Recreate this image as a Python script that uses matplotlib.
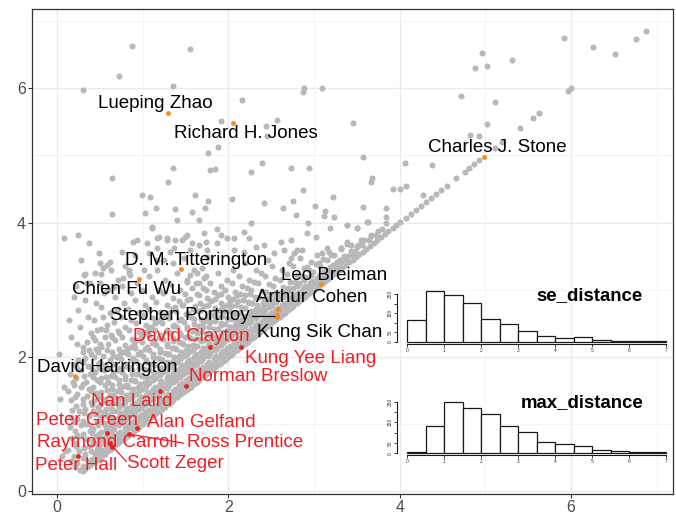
import matplotlib
matplotlib.use("Agg")
import matplotlib.pyplot as plt

plt.rcParams["font.family"] = ["Liberation Sans", "DejaVu Sans"]

# authors lying on the identity line (se_distance == max_distance)
diag_se = [0.30, 0.33, 0.37, 0.40, 0.43, 0.47, 0.50, 0.53, 0.56, 0.60, 0.63, 0.66,
           0.70, 0.73, 0.76, 0.80, 0.83, 0.86, 0.90, 0.93, 0.96, 1.00, 1.03, 1.06,
           1.10, 1.13, 1.16, 1.20, 1.23, 1.26, 1.30, 1.33, 1.36, 1.40, 1.43, 1.46,
           1.50, 1.53, 1.56, 1.60, 1.63, 1.66, 1.70, 1.73, 1.76, 1.80, 1.83, 1.86,
           1.90, 1.93, 1.96, 2.00, 2.03, 2.06, 2.10, 2.13, 2.16, 2.20, 2.23, 2.26,
           2.30, 2.33, 2.36, 2.40, 2.43, 2.46, 2.50, 2.53, 2.56, 2.60, 2.63, 2.66,
           2.70, 2.73, 2.76, 2.80, 2.83, 2.86, 2.90, 2.93, 2.96, 3.00, 3.03, 3.06,
           3.10, 3.13, 3.16, 3.20, 3.23, 3.26, 3.30, 3.33, 3.37, 3.41, 3.45, 3.49,
           3.53, 3.57, 3.61, 3.65, 3.70, 3.74, 3.78, 3.83, 3.87, 3.92, 3.96, 4.01,
           4.07, 4.13, 4.19, 4.25, 4.31, 4.37, 4.42, 4.48, 4.55, 4.66, 4.76, 4.81,
           4.87, 4.93, 5.11, 5.20, 5.41, 5.56, 5.63, 5.96, 6.00]

# (se_distance, max_distance) for the bulk of authors above the identity line
cloud_pts = [
    (0.06, 0.52), (0.09, 0.60), (0.04, 1.38), (0.08, 1.55), (0.02, 2.05),
    (0.16, 0.45), (0.13, 0.62), (0.18, 0.80), (0.15, 0.95), (0.17, 1.10), (0.18, 1.21),
    (0.16, 1.36), (0.13, 1.50), (0.19, 1.62), (0.15, 1.75), (0.20, 1.90), (0.17, 2.30),
    (0.14, 2.55), (0.20, 2.90),
    (0.27, 0.32), (0.23, 0.42), (0.26, 0.60), (0.22, 0.72), (0.24, 0.84), (0.28, 0.98),
    (0.23, 1.08), (0.26, 1.20), (0.30, 1.30), (0.24, 1.45), (0.28, 1.55), (0.22, 1.68),
    (0.27, 1.80), (0.25, 1.95), (0.30, 2.08), (0.23, 2.20), (0.27, 2.45), (0.25, 2.70),
    (0.22, 3.05), (0.28, 3.45),
    (0.36, 0.45), (0.33, 0.55), (0.38, 0.68), (0.35, 0.78), (0.39, 0.90), (0.34, 1.00),
    (0.37, 1.12), (0.33, 1.22), (0.40, 1.33), (0.35, 1.42), (0.38, 1.52), (0.34, 1.63),
    (0.39, 1.74), (0.36, 1.86), (0.33, 1.98), (0.38, 2.10), (0.35, 2.22), (0.40, 2.35),
    (0.36, 2.60), (0.33, 2.85), (0.39, 3.10),
    (0.44, 0.55), (0.47, 0.62), (0.43, 0.72), (0.46, 0.82), (0.42, 0.93), (0.47, 1.03),
    (0.44, 1.15), (0.48, 1.25), (0.43, 1.35), (0.46, 1.46), (0.42, 1.55), (0.47, 1.66),
    (0.44, 1.77), (0.48, 1.90), (0.43, 2.00), (0.46, 2.12), (0.44, 2.25), (0.47, 2.40),
    (0.43, 2.55), (0.46, 2.80), (0.44, 3.25),
    (0.53, 0.62), (0.50, 0.70), (0.55, 0.80), (0.51, 0.88), (0.56, 0.98), (0.52, 1.08),
    (0.55, 1.18), (0.50, 1.28), (0.54, 1.38), (0.51, 1.48), (0.56, 1.58), (0.52, 1.68),
    (0.55, 1.80), (0.50, 1.92), (0.54, 2.02), (0.52, 2.15), (0.56, 2.30), (0.51, 2.42),
    (0.54, 2.60), (0.52, 2.75), (0.55, 2.95),
    (0.60, 0.70), (0.63, 0.78), (0.59, 0.86), (0.62, 0.95), (0.64, 1.05), (0.60, 1.14),
    (0.63, 1.24), (0.59, 1.33), (0.62, 1.43), (0.64, 1.53), (0.60, 1.63), (0.63, 1.72),
    (0.59, 1.83), (0.62, 1.95), (0.64, 2.07), (0.60, 2.20), (0.63, 2.32), (0.59, 2.48),
    (0.62, 2.65), (0.60, 3.00), (0.63, 3.30),
    (0.68, 0.78), (0.71, 0.85), (0.67, 0.93), (0.70, 1.02), (0.72, 1.11), (0.68, 1.20),
    (0.71, 1.30), (0.67, 1.40), (0.70, 1.50), (0.72, 1.60), (0.68, 1.70), (0.71, 1.80),
    (0.67, 1.90), (0.70, 2.00), (0.72, 2.12), (0.68, 2.25), (0.71, 2.38), (0.67, 2.52),
    (0.70, 2.70), (0.68, 2.90), (0.71, 3.15),
    (0.76, 0.86), (0.79, 0.94), (0.75, 1.02), (0.78, 1.10), (0.80, 1.20), (0.76, 1.29),
    (0.79, 1.38), (0.75, 1.48), (0.78, 1.57), (0.80, 1.67), (0.76, 1.77), (0.79, 1.87),
    (0.75, 1.97), (0.78, 2.08), (0.80, 2.18), (0.76, 2.30), (0.79, 2.45), (0.75, 2.60),
    (0.78, 2.80), (0.76, 3.05), (0.79, 3.35),
    (0.84, 0.94), (0.87, 1.02), (0.83, 1.10), (0.86, 1.19), (0.88, 1.28), (0.84, 1.37),
    (0.87, 1.46), (0.83, 1.56), (0.86, 1.65), (0.88, 1.75), (0.84, 1.85), (0.87, 1.95),
    (0.83, 2.05), (0.86, 2.15), (0.88, 2.27), (0.84, 2.40), (0.87, 2.55), (0.83, 2.72),
    (0.86, 2.95), (0.84, 3.25),
    (0.92, 1.02), (0.95, 1.10), (0.91, 1.18), (0.94, 1.27), (0.96, 1.36), (0.92, 1.45),
    (0.95, 1.55), (0.91, 1.64), (0.94, 1.74), (0.96, 1.84), (0.92, 1.94), (0.95, 2.04),
    (0.91, 2.14), (0.94, 2.25), (0.96, 2.37), (0.92, 2.50), (0.95, 2.65), (0.91, 2.85),
    (0.94, 3.10),
    (1.00, 1.10), (1.03, 1.18), (0.99, 1.26), (1.02, 1.35), (1.04, 1.44), (1.00, 1.53),
    (1.03, 1.62), (0.99, 1.72), (1.02, 1.82), (1.04, 1.92), (1.00, 2.02), (1.03, 2.12),
    (0.99, 2.23), (1.02, 2.35), (1.04, 2.48), (1.00, 2.62), (1.03, 2.78), (0.99, 3.00),
    (1.02, 3.30),
    (1.08, 1.18), (1.11, 1.26), (1.07, 1.34), (1.10, 1.43), (1.12, 1.52), (1.08, 1.61),
    (1.11, 1.70), (1.07, 1.80), (1.10, 1.90), (1.12, 2.00), (1.08, 2.10), (1.11, 2.21),
    (1.07, 2.33), (1.10, 2.45), (1.12, 2.58), (1.08, 2.72), (1.11, 2.90), (1.08, 3.20),
    (1.16, 1.26), (1.19, 1.34), (1.15, 1.42), (1.18, 1.51), (1.20, 1.60), (1.16, 1.69),
    (1.19, 1.78), (1.15, 1.88), (1.18, 1.98), (1.20, 2.08), (1.16, 2.18), (1.19, 2.29),
    (1.15, 2.40), (1.18, 2.53), (1.20, 2.67), (1.16, 2.82), (1.19, 3.00), (1.17, 3.30),
    (1.24, 1.34), (1.27, 1.42), (1.23, 1.50), (1.26, 1.59), (1.28, 1.68), (1.24, 1.77),
    (1.27, 1.86), (1.23, 1.96), (1.26, 2.06), (1.28, 2.16), (1.24, 2.27), (1.27, 2.38),
    (1.23, 2.50), (1.26, 2.63), (1.28, 2.78), (1.24, 2.95), (1.26, 3.15),
    (1.32, 1.42), (1.35, 1.50), (1.31, 1.58), (1.34, 1.67), (1.36, 1.76), (1.32, 1.85),
    (1.35, 1.94), (1.31, 2.04), (1.34, 2.14), (1.36, 2.24), (1.32, 2.35), (1.35, 2.46),
    (1.31, 2.58), (1.34, 2.72), (1.36, 2.88), (1.32, 3.08), (1.35, 3.40),
    (1.40, 1.50), (1.43, 1.58), (1.39, 1.66), (1.42, 1.75), (1.44, 1.84), (1.40, 1.93),
    (1.43, 2.02), (1.39, 2.12), (1.42, 2.22), (1.44, 2.33), (1.40, 2.44), (1.43, 2.55),
    (1.39, 2.68), (1.42, 2.83), (1.44, 3.00), (1.40, 3.25),
    (1.48, 1.58), (1.51, 1.66), (1.47, 1.74), (1.50, 1.83), (1.52, 1.92), (1.48, 2.01),
    (1.51, 2.10), (1.47, 2.20), (1.50, 2.30), (1.52, 2.41), (1.48, 2.52), (1.51, 2.64),
    (1.47, 2.78), (1.50, 2.93), (1.52, 3.12),
    (1.56, 1.66), (1.59, 1.74), (1.55, 1.82), (1.58, 1.91), (1.60, 2.00), (1.56, 2.09),
    (1.59, 2.18), (1.55, 2.28), (1.58, 2.38), (1.60, 2.49), (1.56, 2.60), (1.59, 2.72),
    (1.55, 2.86), (1.58, 3.02), (1.60, 3.30),
    (1.64, 1.74), (1.67, 1.82), (1.63, 1.90), (1.66, 1.99), (1.68, 2.08), (1.64, 2.17),
    (1.67, 2.26), (1.63, 2.36), (1.66, 2.46), (1.68, 2.57), (1.64, 2.68), (1.67, 2.80),
    (1.63, 2.94), (1.66, 3.10),
    (1.72, 1.82), (1.75, 1.90), (1.71, 1.98), (1.74, 2.07), (1.76, 2.16), (1.72, 2.25),
    (1.75, 2.34), (1.71, 2.44), (1.74, 2.54), (1.76, 2.65), (1.72, 2.76), (1.75, 2.88),
    (1.71, 3.02), (1.74, 3.20),
    (1.80, 1.90), (1.83, 1.98), (1.79, 2.06), (1.82, 2.15), (1.84, 2.24), (1.80, 2.33),
    (1.83, 2.42), (1.79, 2.52), (1.82, 2.62), (1.84, 2.73), (1.80, 2.84), (1.83, 2.96),
    (1.79, 3.10),
    (1.88, 1.98), (1.91, 2.06), (1.87, 2.14), (1.90, 2.23), (1.92, 2.32), (1.88, 2.41),
    (1.91, 2.50), (1.87, 2.60), (1.90, 2.70), (1.92, 2.81), (1.88, 2.92), (1.91, 3.05),
    (1.88, 3.25),
    (1.96, 2.06), (1.99, 2.14), (1.95, 2.22), (1.98, 2.31), (2.00, 2.40), (1.96, 2.49),
    (1.99, 2.58), (1.95, 2.68), (1.98, 2.78), (2.00, 2.89), (1.96, 3.00), (1.99, 3.15),
    (2.04, 2.14), (2.07, 2.22), (2.03, 2.30), (2.06, 2.39), (2.08, 2.48), (2.04, 2.57),
    (2.07, 2.66), (2.03, 2.76), (2.06, 2.86), (2.08, 2.97), (2.04, 3.10), (2.06, 3.30),
    (2.12, 2.22), (2.15, 2.30), (2.11, 2.38), (2.14, 2.47), (2.16, 2.56), (2.12, 2.65),
    (2.15, 2.74), (2.11, 2.84), (2.14, 2.94), (2.16, 3.06), (2.12, 3.20),
    (2.20, 2.30), (2.23, 2.38), (2.19, 2.46), (2.22, 2.55), (2.24, 2.64), (2.20, 2.73),
    (2.23, 2.82), (2.19, 2.92), (2.22, 3.02), (2.24, 3.15), (2.20, 3.40),
    (2.28, 2.38), (2.31, 2.46), (2.27, 2.54), (2.30, 2.63), (2.32, 2.72), (2.28, 2.81),
    (2.31, 2.90), (2.27, 3.00), (2.30, 3.12), (2.32, 3.30),
    (2.36, 2.46), (2.39, 2.54), (2.35, 2.62), (2.38, 2.71), (2.40, 2.80), (2.36, 2.89),
    (2.39, 2.98), (2.35, 3.10), (2.38, 3.25),
    (2.44, 2.54), (2.47, 2.62), (2.43, 2.70), (2.46, 2.79), (2.48, 2.88), (2.44, 2.97),
    (2.47, 3.08), (2.43, 3.20), (2.46, 3.45),
    (2.52, 2.62), (2.55, 2.70), (2.51, 2.78), (2.54, 2.87), (2.56, 2.96), (2.52, 3.06),
    (2.55, 3.18), (2.51, 3.35),
    (2.60, 2.70), (2.63, 2.78), (2.59, 2.86), (2.62, 2.95), (2.64, 3.04), (2.60, 3.15),
    (2.63, 3.30),
    (2.68, 2.78), (2.71, 2.86), (2.67, 2.94), (2.70, 3.03), (2.72, 3.12), (2.68, 3.24),
    (2.71, 3.40),
    (2.76, 2.86), (2.79, 2.94), (2.75, 3.02), (2.78, 3.11), (2.80, 3.22), (2.76, 3.36),
    (2.84, 2.94), (2.87, 3.02), (2.83, 3.10), (2.86, 3.20), (2.88, 3.32), (2.84, 3.48),
    (2.92, 3.02), (2.95, 3.10), (2.91, 3.19), (2.94, 3.29), (2.96, 3.42),
    (3.00, 3.10), (3.03, 3.18), (2.99, 3.27), (3.02, 3.38), (3.04, 3.52),
    (3.08, 3.18), (3.11, 3.26), (3.07, 3.35), (3.10, 3.46),
    (3.16, 3.26), (3.19, 3.34), (3.15, 3.44), (3.18, 3.56),
    (3.24, 3.34), (3.27, 3.42), (3.23, 3.52),
    (3.32, 3.42), (3.35, 3.50), (3.31, 3.60),
    (3.40, 3.50), (3.43, 3.58), (3.39, 3.68),
    (3.48, 3.58), (3.51, 3.66), (3.56, 3.66), (3.59, 3.74),
    (3.64, 3.74), (3.67, 3.80), (3.72, 3.82), (3.80, 3.90),
]

# the crowded band just above the identity line
band_pts = [
    (0.21, 0.36), (0.20, 0.52), (0.22, 0.67), (0.21, 0.90), (0.20, 1.03), (0.22, 1.27),
    (0.21, 1.41), (0.20, 1.58), (0.22, 1.86),
    (0.31, 0.38), (0.30, 0.50), (0.32, 0.64), (0.31, 0.85), (0.30, 1.05), (0.32, 1.17),
    (0.31, 1.38), (0.30, 1.60), (0.32, 1.72), (0.31, 1.92), (0.30, 2.15),
    (0.41, 0.48), (0.40, 0.60), (0.42, 0.75), (0.41, 0.87), (0.40, 0.97), (0.42, 1.19),
    (0.41, 1.29), (0.40, 1.50), (0.42, 1.70), (0.41, 1.82), (0.40, 2.05), (0.42, 2.30),
    (0.49, 0.56), (0.48, 0.66), (0.50, 0.76), (0.49, 0.86), (0.48, 0.98), (0.50, 1.10),
    (0.49, 1.20), (0.48, 1.41), (0.50, 1.62), (0.49, 1.84), (0.48, 2.07), (0.50, 2.20),
    (0.57, 0.64), (0.56, 0.74), (0.58, 0.83), (0.57, 0.92), (0.56, 1.02), (0.58, 1.12),
    (0.57, 1.23), (0.56, 1.35), (0.58, 1.51), (0.57, 1.70), (0.56, 1.88), (0.58, 2.10),
    (0.57, 2.40),
    (0.65, 0.72), (0.66, 0.82), (0.64, 0.90), (0.65, 0.99), (0.66, 1.09), (0.64, 1.19),
    (0.65, 1.31), (0.66, 1.44), (0.64, 1.58), (0.65, 1.77), (0.66, 2.02), (0.64, 2.30),
    (0.73, 0.80), (0.74, 0.89), (0.72, 0.98), (0.73, 1.07), (0.74, 1.16), (0.72, 1.26),
    (0.73, 1.38), (0.74, 1.52), (0.72, 1.66), (0.73, 1.84), (0.74, 2.05), (0.72, 2.35),
    (0.81, 0.88), (0.82, 0.97), (0.80, 1.06), (0.81, 1.15), (0.82, 1.24), (0.80, 1.33),
    (0.81, 1.44), (0.82, 1.58), (0.80, 1.72), (0.81, 1.90), (0.82, 2.12),
    (0.89, 0.96), (0.90, 1.05), (0.88, 1.14), (0.89, 1.23), (0.90, 1.32), (0.88, 1.41),
    (0.89, 1.52), (0.90, 1.66), (0.88, 1.80), (0.89, 1.99), (0.90, 2.20),
    (0.97, 1.04), (0.98, 1.13), (0.96, 1.22), (0.97, 1.31), (0.98, 1.40), (0.96, 1.49),
    (0.97, 1.60), (0.98, 1.73), (0.96, 1.88), (0.97, 2.07), (0.98, 2.30),
    (1.05, 1.12), (1.06, 1.21), (1.04, 1.30), (1.05, 1.39), (1.06, 1.48), (1.04, 1.57),
    (1.05, 1.68), (1.06, 1.81), (1.04, 1.96), (1.05, 2.15), (1.06, 2.40),
    (1.13, 1.20), (1.14, 1.29), (1.12, 1.38), (1.13, 1.47), (1.14, 1.56), (1.12, 1.65),
    (1.13, 1.76), (1.14, 1.89), (1.12, 2.04), (1.13, 2.24), (1.14, 2.50),
    (1.21, 1.28), (1.22, 1.37), (1.20, 1.46), (1.21, 1.55), (1.22, 1.64), (1.20, 1.73),
    (1.21, 1.84), (1.22, 1.97), (1.20, 2.12), (1.21, 2.32), (1.22, 2.58),
    (1.29, 1.36), (1.30, 1.45), (1.28, 1.54), (1.29, 1.63), (1.30, 1.72), (1.28, 1.81),
    (1.29, 1.92), (1.30, 2.05), (1.28, 2.20), (1.29, 2.40), (1.30, 2.66),
    (1.37, 1.44), (1.38, 1.53), (1.36, 1.62), (1.37, 1.71), (1.38, 1.80), (1.36, 1.89),
    (1.37, 2.00), (1.38, 2.13), (1.36, 2.28), (1.37, 2.48), (1.38, 2.74),
    (1.45, 1.52), (1.46, 1.61), (1.44, 1.70), (1.45, 1.79), (1.46, 1.88), (1.44, 1.97),
    (1.45, 2.08), (1.46, 2.21), (1.44, 2.36), (1.45, 2.56),
    (1.53, 1.60), (1.54, 1.69), (1.52, 1.78), (1.53, 1.87), (1.54, 1.96), (1.52, 2.05),
    (1.53, 2.16), (1.54, 2.29), (1.52, 2.44), (1.53, 2.66),
    (1.61, 1.68), (1.62, 1.77), (1.60, 1.86), (1.61, 1.95), (1.62, 2.04), (1.60, 2.14),
    (1.61, 2.26), (1.62, 2.40), (1.60, 2.56), (1.61, 2.76),
    (1.69, 1.76), (1.70, 1.85), (1.68, 1.94), (1.69, 2.03), (1.70, 2.13), (1.68, 2.24),
    (1.69, 2.37), (1.70, 2.52), (1.68, 2.70),
    (1.77, 1.84), (1.78, 1.93), (1.76, 2.02), (1.77, 2.11), (1.78, 2.21), (1.76, 2.32),
    (1.77, 2.45), (1.78, 2.60), (1.76, 2.78),
    (1.85, 1.92), (1.86, 2.01), (1.84, 2.10), (1.85, 2.19), (1.86, 2.29), (1.84, 2.40),
    (1.85, 2.53), (1.86, 2.68), (1.84, 2.86),
    (1.93, 2.00), (1.94, 2.09), (1.92, 2.18), (1.93, 2.27), (1.94, 2.37), (1.92, 2.48),
    (1.93, 2.61), (1.94, 2.76), (1.92, 2.94),
    (2.01, 2.08), (2.02, 2.17), (2.00, 2.26), (2.01, 2.35), (2.02, 2.45), (2.00, 2.56),
    (2.01, 2.69), (2.02, 2.84),
    (2.09, 2.16), (2.10, 2.25), (2.08, 2.34), (2.09, 2.43), (2.10, 2.53), (2.08, 2.64),
    (2.09, 2.77), (2.10, 2.92),
    (2.17, 2.24), (2.18, 2.33), (2.16, 2.42), (2.17, 2.51), (2.18, 2.61), (2.16, 2.72),
    (2.17, 2.85),
    (2.25, 2.32), (2.26, 2.41), (2.24, 2.50), (2.25, 2.59), (2.26, 2.69), (2.24, 2.80),
    (2.25, 2.93),
    (2.33, 2.40), (2.34, 2.49), (2.32, 2.58), (2.33, 2.67), (2.34, 2.77), (2.32, 2.88),
    (2.41, 2.48), (2.42, 2.57), (2.40, 2.66), (2.41, 2.75), (2.42, 2.85),
    (2.49, 2.56), (2.50, 2.65), (2.48, 2.74), (2.49, 2.83), (2.50, 2.93),
    (2.57, 2.64), (2.58, 2.73), (2.56, 2.82), (2.57, 2.91),
    (2.65, 2.72), (2.66, 2.81), (2.64, 2.90), (2.65, 2.99),
    (2.73, 2.80), (2.74, 2.89), (2.72, 2.98),
    (2.81, 2.88), (2.82, 2.97), (2.80, 3.06),
    (2.89, 2.96), (2.90, 3.05), (2.88, 3.14),
    (2.97, 3.04), (2.98, 3.13), (2.96, 3.22),
    (3.05, 3.12), (3.06, 3.21), (3.13, 3.20), (3.14, 3.29),
    (3.21, 3.28), (3.22, 3.37), (3.29, 3.36), (3.30, 3.45),
    (3.37, 3.44), (3.45, 3.52),
]

# the sparser authors further from the identity line
sparse_pts = [
    (0.877, 6.634), (1.559, 6.585), (0.729, 6.183), (0.304, 5.975), (1.357, 6.039),
    (2.159, 5.830), (1.910, 5.518), (2.573, 5.528), (2.436, 5.434), (2.448, 5.290),
    (1.758, 5.037), (1.878, 5.122), (1.352, 4.819), (1.785, 4.780), (1.843, 4.795),
    (2.398, 4.884), (2.269, 4.750), (2.737, 4.814), (2.939, 4.814), (0.647, 4.661),
    (1.298, 4.610), (2.877, 4.487), (0.994, 4.408), (1.083, 4.387), (1.609, 4.412),
    (2.039, 4.353), (3.223, 4.378), (2.884, 6.009), (3.099, 6.009), (2.873, 5.945),
    (5.918, 6.753), (6.257, 6.619), (6.518, 6.506), (6.760, 6.738), (6.873, 6.853),
    (4.959, 6.530), (4.884, 6.307), (5.021, 6.332), (5.317, 6.421), (4.717, 5.885),
    (5.115, 5.792), (3.450, 5.484), (5.018, 5.464), (4.826, 5.305), (4.924, 5.290),
    (3.571, 4.982), (4.066, 4.893), (4.378, 4.854), (3.676, 4.661), (3.664, 4.610),
    (3.925, 4.497), (4.004, 4.506), (4.077, 4.546), (4.269, 4.417), (3.575, 4.238),
    (3.836, 4.223), (3.840, 4.080), (3.384, 3.961), (3.501, 3.917), (3.626, 4.015),
    (3.743, 3.877), (3.840, 4.000), (3.313, 3.619),
    (1.158, 4.214), (1.029, 4.149), (1.376, 4.204), (1.762, 4.323), (1.727, 4.214),
    (1.575, 4.164), (1.403, 4.040), (1.657, 4.040), (1.111, 3.931), (0.643, 4.125),
    (2.417, 4.288), (2.643, 4.224), (2.752, 4.323), (2.787, 4.115), (3.013, 4.254),
    (3.126, 4.179), (3.118, 4.100), (3.235, 4.080), (3.617, 4.006), (3.380, 3.966),
    (3.508, 3.926), (3.189, 3.916), (2.931, 4.001), (2.269, 3.991), (1.871, 3.906),
    (0.078, 3.768), (0.241, 3.817), (0.370, 3.693), (0.487, 3.544), (0.624, 3.420),
    (0.507, 3.396), (0.331, 3.237), (0.889, 3.718), (0.760, 3.569), (0.916, 3.520),
    (1.052, 3.693), (1.072, 3.544), (1.189, 3.792), (1.286, 3.768), (1.384, 3.743),
    (1.501, 3.792), (1.579, 3.693), (1.364, 3.619), (1.169, 3.445), (1.715, 3.842),
    (1.871, 3.693), (1.754, 3.594), (1.988, 3.768), (2.066, 3.594), (2.183, 3.569),
    (2.242, 3.768), (2.319, 3.644), (2.417, 3.668), (2.534, 3.544), (2.651, 3.594),
    (2.729, 3.470), (2.768, 3.544), (2.865, 3.594), (2.924, 3.346), (3.060, 3.396),
    (3.099, 3.544), (3.197, 3.520), (3.314, 3.619), (3.431, 3.668), (3.548, 3.743),
    (3.665, 3.817), (1.910, 3.817), (2.066, 3.768), (2.183, 3.867), (2.612, 3.718),
    (2.729, 3.743), (2.807, 3.594), (2.924, 3.842), (3.021, 3.792), (3.157, 3.619),
    (3.391, 3.718), (3.508, 3.644),
    (0.585, 3.371), (0.538, 3.321), (0.518, 3.237), (0.312, 3.222), (0.351, 3.098),
    (0.507, 3.098), (0.670, 3.048), (0.772, 3.172), (0.858, 3.222), (0.838, 3.296),
    (0.936, 3.743), (1.111, 3.916), (1.169, 3.768), (1.286, 3.743), (1.462, 3.743),
    (1.520, 3.817), (1.325, 3.569), (1.169, 3.619), (1.247, 3.445), (1.481, 3.470),
    (1.559, 3.594), (1.657, 3.668), (1.735, 3.718), (1.754, 3.495), (1.696, 3.321),
    (1.637, 3.247), (1.559, 3.222), (1.520, 3.148), (1.618, 3.098), (1.715, 3.172),
    (1.735, 2.999), (1.657, 2.924), (1.520, 2.850), (1.462, 2.775),
]

# highlighted authors: name, se_distance, max_distance, label centre
orange_names = ["Lueping Zhao", "Richard H. Jones", "Charles J. Stone",
                "D. M. Titterington", "Chien Fu Wu", "Leo Breiman", "Arthur Cohen",
                "Stephen Portnoy", "Kung Sik Chan", "David Harrington"]
orange_x = [1.294, 2.058, 4.990, 1.454, 0.962, 3.088, 2.580, 2.565, 2.570, 0.214]
orange_y = [5.637, 5.488, 4.973, 3.311, 3.162, 3.088, 2.710, 2.630, 2.600, 1.723]
orange_lx = [1.15, 2.20, 5.14, 1.62, 0.81, 3.24, 2.98, 1.43, 3.07, 0.59]
orange_ly = [5.78, 5.33, 5.12, 3.43, 3.01, 3.22, 2.88, 2.61, 2.36, 1.85]

red_names = ["David Clayton", "Kung Yee Liang", "Norman Breslow", "Nan Laird",
             "Alan Gelfand", "Peter Green", "Raymond Carroll", "Ross Prentice",
             "Scott Zeger", "Peter Hall"]
red_x = [1.785, 2.152, 1.504, 1.208, 0.935, 0.585, 0.620, 0.838, 0.640, 0.245]
red_y = [2.155, 2.146, 1.575, 1.496, 0.940, 0.866, 0.720, 0.851, 0.667, 0.528]
red_lx = [1.57, 2.96, 2.35, 0.87, 1.68, 0.35, 0.59, 2.20, 1.38, 0.23]
red_ly = [2.30, 1.98, 1.71, 1.34, 1.02, 1.05, 0.72, 0.72, 0.42, 0.38]

# histogram bins (width 0.5) and counts
bin_left = [0.0, 0.5, 1.0, 1.5, 2.0, 2.5, 3.0, 3.5, 4.0, 4.5, 5.0, 5.5, 6.0, 6.5]
se_counts = [115, 265, 245, 202, 121, 95, 59, 29, 19, 26, 10, 5, 3, 3]
max_counts = [8, 132, 247, 218, 189, 132, 105, 53, 45, 34, 18, 13, 8, 8]

GREY = "#b8b8b8"
ORANGE = "#f28a1c"
RED = "#f01e24"

fig = plt.figure(figsize=(6.76, 5.14), dpi=100)
ax = fig.add_axes([32 / 676, 20 / 514, 641 / 676, 485 / 514])

# scatter
grey_pts = cloud_pts + band_pts + sparse_pts
ax.scatter(diag_se, diag_se, s=19, color=GREY, lw=0, zorder=2)
ax.scatter([p[0] for p in grey_pts], [p[1] for p in grey_pts], s=19, color=GREY,
           lw=0, zorder=2)
ax.scatter(orange_x, orange_y, s=12, color=ORANGE, lw=0, zorder=4)
ax.scatter(red_x, red_y, s=12, color=RED, lw=0, zorder=4)

# leader lines for the crowded labels
ax.plot([2.28, 2.55], [2.616, 2.616], color="black", lw=0.9, zorder=3)
ax.plot([0.838, 1.48], [0.851, 0.717], color=RED, lw=0.9, zorder=3)
ax.plot([0.643, 0.81], [0.677, 0.443], color=RED, lw=0.9, zorder=3)

for name, lx, ly in zip(orange_names, orange_lx, orange_ly):
    ax.text(lx, ly, name, fontsize=13.5, color="black", ha="center", va="center",
            zorder=5)
for name, lx, ly in zip(red_names, red_lx, red_ly):
    ax.text(lx, ly, name, fontsize=13.5, color=RED, ha="center", va="center",
            zorder=5)

ax.set_xlim(-0.29, 7.19)
ax.set_ylim(-0.04, 7.18)
ax.set_xticks([0, 2, 4, 6])
ax.set_yticks([0, 2, 4, 6])
ax.set_xticks([1, 3, 5, 7], minor=True)
ax.set_yticks([1, 3, 5, 7], minor=True)
ax.grid(which="major", color="#ebebeb", lw=1.0, zorder=0)
ax.grid(which="minor", color="#f2f2f2", lw=0.6, zorder=0)
ax.set_axisbelow(True)
ax.tick_params(which="major", length=3, width=0.8, color="#333333",
               labelsize=11.5, labelcolor="#4d4d4d", pad=1.5)
ax.tick_params(which="minor", length=0)
for sp in ax.spines.values():
    sp.set_color("#333333")
    sp.set_linewidth(0.9)


def inset(rect, counts, ylim, title, title_y):
    ins = fig.add_axes(rect)
    ins.patch.set_alpha(0)
    ins.bar(bin_left, counts, width=0.5, align="edge", color="white",
            edgecolor="#1a1a1a", lw=0.9, zorder=3)
    ins.set_xlim(-0.46, 7.16)
    ins.set_ylim(*ylim)
    ins.spines[["top", "right"]].set_visible(False)
    ins.spines["left"].set_position(("data", -0.27))
    ins.spines["left"].set_bounds(0, 250)
    ins.spines["bottom"].set_position(("data", -8))
    ins.spines["bottom"].set_bounds(0, 7)
    for sp in ("left", "bottom"):
        ins.spines[sp].set_linewidth(0.8)
        ins.spines[sp].set_color("#1a1a1a")
    ins.set_xticks(range(8))
    ins.set_yticks([0, 50, 100, 150, 200, 250])
    ins.set_yticklabels(["0", "50", "", "150", "", "250"], rotation=90, va="center")
    ins.tick_params(length=2, width=0.6, color="#1a1a1a", labelsize=3.5,
                    labelcolor="#333333", pad=1)
    fig.text(643 / 676, 1 - title_y / 514, title, fontsize=13.4, fontweight="bold",
             ha="right", va="center")
    return ins


inset([390 / 676, 154 / 514, 282 / 676, 75 / 514], se_counts, (-94, 297),
      "se_distance", 296)
inset([390 / 676, 42 / 514, 282 / 676, 77 / 514], max_counts, (-90, 282),
      "max_distance", 403)

fig.savefig("out.png", dpi=100)
